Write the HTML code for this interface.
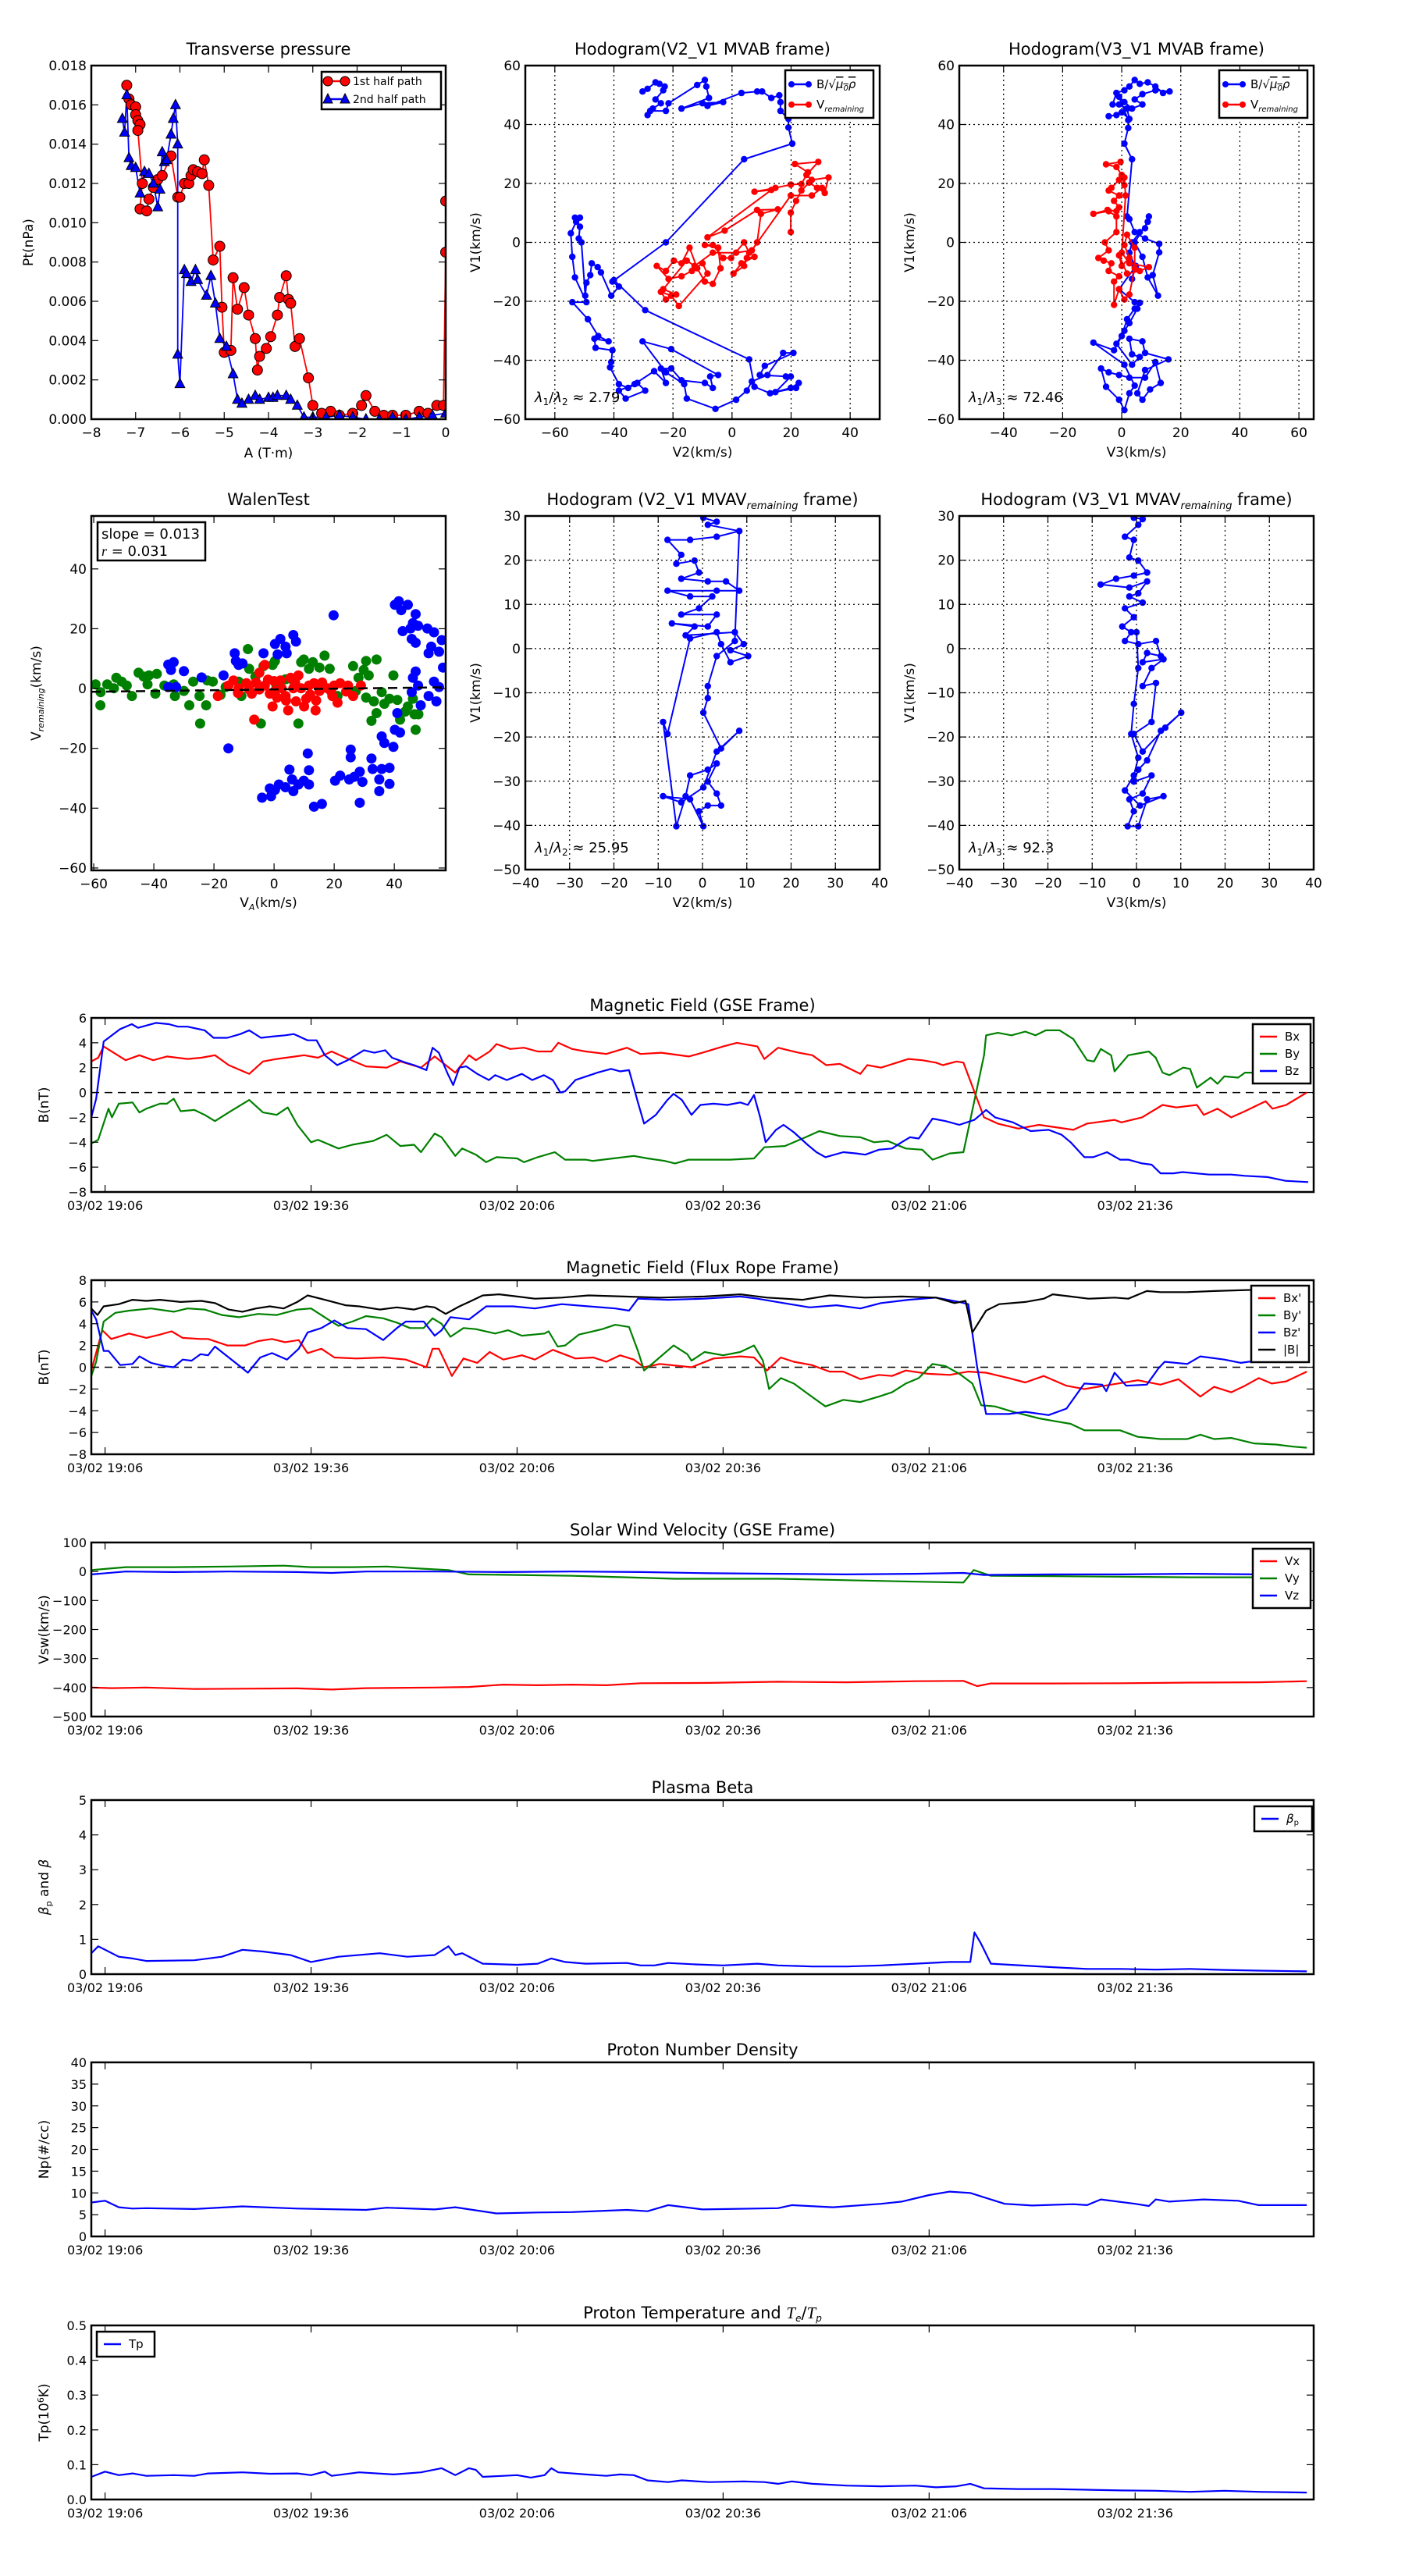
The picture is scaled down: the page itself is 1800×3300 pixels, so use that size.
<!DOCTYPE html>
<html><head><meta charset="utf-8"><title>Flux rope analysis</title>
<style>
html,body{margin:0;padding:0;background:#fff;}
svg{display:block;font-family:"DejaVu Sans","Liberation Sans",sans-serif;}
</style></head>
<body>
<svg id="fig" xmlns="http://www.w3.org/2000/svg" width="1800" height="3300" viewBox="0 0 1800 3300"></svg>
<script>
// ---------------- DATA ----------------
// Transverse pressure: [A (T·m), Pt (x1e-3 nPa)]
const ptFirstHalf=[[-7.2,17.0],[-7.15,16.3],[-7.1,16.0],[-7.0,15.9],[-7.0,15.5],[-6.95,15.2],[-6.9,15.0],[-6.95,14.7],[-6.85,12.0],[-6.9,10.7],[-6.75,10.6],[-6.7,11.2],[-6.6,11.8],[-6.5,12.2],[-6.4,12.4],[-6.2,13.4],[-6.05,11.3],[-6.0,11.3],[-5.9,12.0],[-5.8,12.0],[-5.75,12.4],[-5.7,12.7],[-5.6,12.6],[-5.5,12.5],[-5.45,13.2],[-5.35,11.9],[-5.25,8.1],[-5.1,8.8],[-5.05,5.7],[-5.0,3.4],[-4.85,3.5],[-4.8,7.2],[-4.7,5.6],[-4.55,6.7],[-4.45,5.3],[-4.3,4.1],[-4.25,2.5],[-4.2,3.2],[-4.05,3.6],[-3.95,4.2],[-3.8,5.3],[-3.75,6.2],[-3.6,7.3],[-3.55,6.1],[-3.5,5.9],[-3.4,3.7],[-3.3,4.1],[-3.1,2.1],[-3.0,0.7],[-2.8,0.3],[-2.6,0.4],[-2.4,0.2],[-2.1,0.3],[-1.9,0.7],[-1.8,1.2],[-1.6,0.4],[-1.4,0.2],[-1.2,0.2],[-0.9,0.2],[-0.6,0.4],[-0.4,0.3],[-0.2,0.7],[-0.05,0.7],[0,8.5],[0,11.1]];
const ptSecondHalf=[[-7.3,15.3],[-7.25,14.6],[-7.2,16.5],[-7.15,13.3],[-7.1,12.9],[-7.0,12.8],[-6.9,11.5],[-6.8,12.6],[-6.7,12.5],[-6.6,12.0],[-6.5,10.8],[-6.45,11.7],[-6.4,13.6],[-6.35,13.1],[-6.3,13.2],[-6.2,14.5],[-6.15,15.3],[-6.1,16.0],[-6.05,14.0],[-6.05,3.3],[-6.0,1.8],[-5.9,7.6],[-5.85,7.4],[-5.75,7.0],[-5.65,7.6],[-5.6,7.1],[-5.4,6.3],[-5.3,7.3],[-5.2,5.9],[-5.1,4.1],[-4.95,3.7],[-4.8,2.3],[-4.7,1.0],[-4.6,0.8],[-4.45,1.0],[-4.3,1.2],[-4.2,1.0],[-4.0,1.1],[-3.9,1.1],[-3.8,1.2],[-3.6,1.2],[-3.5,1.0],[-3.35,0.7],[-3.2,0.1],[-3.0,0.1],[-2.7,0.1],[-2.4,0.2],[-2.1,0.1],[-1.8,0.0],[-1.5,0.0],[-1.2,0.1],[-0.9,0.0],[-0.6,0.1],[-0.3,0.2],[0,0.3]];
// Hodogram V2-V1 MVAB: [V2, V1]
const hodo1B=[[-30.3,51.2],[-28.6,52.1],[-25.9,54.3],[-24.6,53.8],[-22.8,52.9],[-23.3,51.6],[-25.9,48.5],[-24.1,47.2],[-26.8,45.4],[-28.6,43.2],[-27.7,44.6],[-22.4,44.6],[-21.5,47.2],[-11.8,53.4],[-9.2,55.1],[-8.7,52.9],[-7.8,49.0],[-17.1,45.4],[-10.0,47.2],[-3.0,47.6],[-8.3,46.3],[3.2,50.7],[8.5,51.2],[10.2,51.2],[13.3,49.0],[16.0,49.9],[16.4,47.6],[16.4,44.6],[19.1,41.9],[19.1,39.0],[20.4,33.5],[4.1,28.2],[-22.4,0.0],[-40.5,-13.3],[-38.3,-15.0],[-40.9,-18.1],[-44.4,-10.2],[-45.5,-8.4],[-47.5,-7.1],[-48.0,-11.1],[-49.3,-13.7],[-49.7,-18.1],[-51.0,0.0],[-51.9,1.3],[-51.5,5.3],[-53.2,8.4],[-51.5,8.4],[-52.8,7.0],[-54.6,3.1],[-54.1,-4.9],[-53.2,-11.9],[-49.3,-20.3],[-54.1,-20.3],[-48.8,-26.1],[-45.3,-31.8],[-41.8,-33.6],[-46.6,-32.7],[-46.2,-35.8],[-40.5,-36.6],[-40.9,-40.6],[-41.3,-42.4],[-38.3,-48.1],[-35.2,-49.4],[-32.1,-47.7],[-29.4,-50.3],[-36.0,-53.0],[-38.3,-50.3],[-33.0,-48.1],[-26.4,-43.7],[-22.4,-47.7],[-24.1,-42.8],[-20.6,-42.8],[-17.1,-46.8],[-9.2,-47.7],[-6.5,-49.4],[-7.4,-45.5],[-4.7,-45.0],[-20.6,-36.2],[-30.3,-33.6],[-22.4,-44.1],[-16.2,-48.1],[-15.3,-53.0],[-5.6,-56.5],[1.4,-53.4],[5.0,-50.3],[6.7,-47.2],[12.0,-45.0],[17.3,-37.5],[20.8,-37.5],[11.1,-41.9],[9.4,-45.0],[18.2,-45.5],[19.9,-45.5],[14.7,-50.8],[21.7,-49.4],[22.6,-47.7],[19.9,-49.4],[12.9,-51.2],[7.6,-49.0],[5.8,-39.7],[-29.4,-23.0],[-40.0,-12.8]];
const hodo1V=[[19.9,3.5],[19.9,10.1],[21.7,14.1],[23.5,17.6],[26.1,20.3],[28.8,18.5],[31.4,16.8],[32.7,22.0],[27.0,21.2],[25.2,22.9],[29.2,27.3],[21.3,26.6],[25.7,23.8],[23.5,19.8],[19.9,19.6],[14.7,18.5],[7.6,17.2],[13.3,17.8],[-8.3,1.7],[-2.5,4.0],[8.5,11.0],[15.5,11.2],[9.8,9.7],[8.5,0.0],[5.0,-5.3],[7.6,-4.9],[3.2,-7.1],[0.5,-10.6],[4.1,-8.0],[5.8,-3.5],[4.1,0.0],[-0.3,-5.3],[-3.0,-5.3],[-6.5,-0.9],[-9.2,-0.9],[-4.7,-1.8],[-3.9,-8.8],[-6.5,-14.1],[-9.2,-13.3],[-11.8,-8.8],[-14.4,-1.8],[-17.1,-7.1],[-19.7,-6.2],[-22.4,-9.7],[-25.5,-8.0],[-21.5,-12.4],[-17.1,-11.5],[-13.6,-9.7],[-10.0,-7.1],[-8.3,-10.6],[-18.0,-21.6],[-20.6,-18.1],[-24.1,-16.8],[-22.4,-19.4],[-18.9,-17.7],[-23.3,-15.9],[-15.3,-6.2],[-12.7,-8.0],[-6.5,-3.5],[1.4,-3.5],[6.7,-2.7],[19.9,15.9],[27.0,15.9],[30.5,18.5]];
// Hodogram V3-V1 MVAB: [V3, V1]
const hodo2B=[[-4.4,42.8],[-1.8,43.2],[0,44.1],[2.6,41.9],[1.8,45.4],[-0.9,46.8],[-3.1,46.8],[-1.8,50.7],[0.9,51.6],[2.6,52.9],[4.4,55.1],[6.1,53.8],[8.8,54.3],[11.4,52.9],[14.0,50.7],[16.2,51.2],[11.4,51.6],[7.0,50.3],[4.4,48.5],[7.0,46.8],[3.5,45.4],[0.9,47.6],[-0.9,49.4],[2.2,41.5],[2.2,38.8],[0.9,33.5],[3.5,28.2],[1.8,8.8],[2.6,7.9],[4.4,3.5],[7.9,1.3],[12.7,-0.5],[12.7,-3.4],[10.5,-11.1],[12.3,-18.1],[8.8,-11.9],[7.0,-4.9],[4.4,0.0],[8.8,7.0],[9.2,8.8],[7.9,4.8],[6.1,3.5],[3.5,0.0],[2.6,-3.5],[4.4,-8.0],[3.5,-12.4],[4.8,-8.0],[-0.9,-15.9],[4.4,-20.3],[6.1,-20.5],[4.4,-22.5],[1.8,-26.1],[0,-31.8],[-2.6,-36.6],[-9.6,-34.0],[0.9,-41.5],[4.4,-48.6],[2.6,-51.2],[0.9,-56.9],[-0.9,-53.4],[-5.3,-49.0],[-7.0,-42.8],[-4.4,-44.1],[-0.9,-45.0],[2.6,-45.9],[7.9,-45.9],[11.4,-40.6],[13.2,-47.7],[9.6,-49.9],[7.0,-53.4],[5.3,-51.2],[7.9,-43.3],[15.8,-39.7],[7.9,-37.5],[7.0,-33.6],[2.6,-32.7],[3.5,-38.0],[6.1,-38.9],[3.5,-41.5],[-1.8,-34.4],[0.9,-30.0],[2.6,-27.4],[5.3,-22.5],[6.1,-20.5]];
const hodo2V=[[-0.4,27.3],[-5.3,26.5],[-1.8,25.6],[0,22.9],[0.9,19.4],[-0.9,21.2],[-3.5,18.5],[-4.4,17.6],[-0.9,15.9],[-2.6,14.1],[-0.9,11.9],[-1.8,10.6],[-4.8,11.0],[-9.6,9.7],[-4.4,10.6],[-1.8,8.8],[-1.8,3.5],[-5.7,0.0],[-4.4,-2.7],[-7.9,-5.3],[-6.1,-6.2],[-3.5,-7.1],[-4.4,-9.7],[-0.9,-11.5],[-2.6,-13.3],[-2.6,-21.2],[-0.9,-15.9],[0.9,-19.4],[2.6,-17.7],[4.4,-8.8],[4.4,-1.8],[1.8,2.6],[0.9,-0.9],[2.6,-5.3],[0,-8.0],[-0.9,-4.4],[1.8,-10.6],[6.1,-9.7],[9.2,-8.4],[2.6,-7.1],[0,-3.5],[1.3,15.9],[0.9,22.0]];
// Walen test scatter: [V_A, V_remaining]
const walenX=[[-59.4,1.4],[-57.7,-1.2],[-55.5,1.4],[-53.3,0.1],[-52.5,3.6],[-50.7,2.3],[-49.0,1.0],[-47.3,-2.5],[-45.1,5.3],[-43.4,4.0],[-41.6,4.4],[-39.0,4.9],[-42.1,1.4],[-39.5,-1.7],[-36.5,1.0],[-33.4,1.4],[-33.0,-2.5],[-30.0,-0.8],[-28.2,-5.6],[-26.9,2.3],[-24.8,-2.5],[-24.6,-11.7],[-22.6,-5.6],[-22.2,2.7],[-20.4,2.3],[-17.8,-2.1],[-16.1,0.5],[-10.9,-2.5],[-8.7,13.2],[-8.3,6.6],[-11.8,2.3],[-6.2,4.0],[-4.4,-11.7],[-3.5,7.5],[-0.5,7.9],[0.3,9.2],[0.8,1.0],[3.8,3.1],[6.4,2.7],[8.1,-11.7],[9.0,8.8],[9.9,9.7],[11.6,6.6],[12.9,8.8],[15.1,7.0],[16.8,11.0],[18.5,6.6],[21.1,-2.5],[26.3,7.5],[28.1,3.6],[29.8,6.2],[30.6,9.2],[31.5,4.4],[34.1,9.7],[39.7,4.4],[35.8,-1.2],[30.6,-3.0],[33.2,-4.3],[32.4,-10.8],[34.1,-8.2],[36.7,-5.1],[38.4,-3.4],[41.0,-3.8],[41.9,-10.4],[44.5,-6.0],[46.2,-3.4],[46.7,-8.6],[48.0,-8.6],[47.1,-13.8],[43.6,-7.7],[-57.8,-5.6],[27.2,-0.8]];
const walenY=[[-18.7,-2.5],[-15.2,1.0],[-13.5,2.7],[-11.8,0.1],[-9.2,1.8],[-7.4,-1.7],[-6.6,-10.4],[-4.9,5.3],[-3.1,7.9],[-3.1,1.0],[-0.5,-6.0],[0.3,-0.8],[2.1,2.7],[3.8,-2.5],[4.7,-7.3],[5.5,3.6],[7.3,-4.3],[8.1,4.4],[9.0,0.1],[10.7,-3.4],[11.6,1.0],[13.3,1.8],[13.8,-7.3],[15.1,-0.8],[17.7,0.1],[19.4,-2.5],[21.1,-4.7],[22.0,1.8],[24.6,1.0],[26.3,-2.5],[28.9,1.0],[-8.3,-0.3],[-1.4,-1.7],[6.4,0.1],[2.5,0.1],[-4.9,-0.3],[-2,3],[4,-4],[7,2],[12,-2],[16,2],[19,-1],[-6,2],[10,-6],[1,-3],[24,-1],[-12,-1.5],[0,2.5],[14,-4],[20,1]];
const walenZ=[[-35.2,8.0],[-33.4,8.8],[-34.3,6.2],[-30.0,5.8],[-35.2,0.5],[-32.6,0.5],[-24.1,3.7],[-16.8,4.4],[-13.1,11.8],[-12.7,9.2],[-11.8,7.9],[-10.5,8.4],[-15.2,-20.0],[-3.5,11.8],[0.3,14.9],[2.1,16.6],[3.8,14.0],[6.4,17.9],[7.3,15.7],[4.2,11.8],[1.2,11.4],[19.8,24.5],[40.2,28.0],[41.5,29.2],[42.3,26.2],[44.5,28.0],[47.1,24.9],[46.2,21.9],[45.4,20.1],[47.9,21.0],[42.8,19.2],[45.8,16.6],[47.1,15.3],[51.0,20.1],[53.2,18.8],[55.8,16.2],[52.3,14.0],[51.4,11.8],[54.9,12.3],[56.2,7.0],[47.1,5.7],[46.2,3.6],[47.9,1.0],[45.8,-1.2],[53.2,2.3],[54.9,0.5],[51.4,-2.5],[54.0,-4.3],[48.8,-5.6],[41.0,-8.2],[40.2,-13.8],[41.9,-14.7],[35.8,-16.0],[36.7,-18.2],[39.7,-19.5],[25.5,-20.4],[25.5,-23.0],[11.2,-21.7],[5.1,-27.1],[11.6,-27.3],[6.0,-30.4],[8.1,-32.1],[9.9,-30.8],[11.6,-32.1],[6.4,-34.3],[3.8,-33.0],[1.6,-32.1],[0.3,-33.9],[-1.4,-33.4],[-4.0,-36.5],[-1.0,-36.0],[13.3,-39.5],[15.9,-38.6],[20.3,-30.8],[22.0,-29.1],[25.0,-30.4],[26.7,-29.5],[28.5,-27.8],[29.4,-31.2],[32.4,-23.4],[32.8,-26.9],[35.8,-26.9],[38.4,-26.5],[35.0,-30.4],[35.0,-34.3],[38.4,-31.9],[28.5,-38.2]];
const walenSlope=0.013, walenIntercept=-0.3;
// MVAV hodograms
const hodo3B=[[0.2,29.6],[3.2,28.7],[1.2,28.0],[8.3,26.6],[3.2,25.3],[-2.8,24.6],[-7.9,24.6],[-4.8,21.2],[-5.9,19.2],[-1.8,19.9],[-0.8,17.2],[-4.8,15.8],[1.2,15.2],[5.3,15.2],[8.3,13.1],[3.2,13.1],[-7.9,13.1],[-2.8,11.8],[2.2,11.8],[-0.8,9.1],[-4.8,7.7],[3.2,7.7],[1.2,5.0],[-6.9,5.7],[-1.8,5.0],[-3.8,3.0],[7.3,3.7],[9.3,1.0],[6.3,-0.4],[10.3,-1.7],[6.3,-3.1],[4.2,1.0],[3.2,3.7],[-2.8,2.3],[-7.9,-19.3],[-8.9,-16.6],[-5.9,-40.2],[-3.8,-33.4],[-2.8,-28.7],[1.2,-27.4],[3.2,-26.0],[1.2,-30.1],[3.2,-32.8],[4.2,-35.5],[1.2,-35.5],[-0.8,-36.8],[0.2,-40.2],[-2.8,-34.1],[-8.9,-33.4],[-4.8,-34.8],[0.2,-31.4],[3.2,-23.3],[8.3,-18.6],[4.2,-22.6],[0.2,-14.5],[1.2,-11.2],[1.2,-8.5],[3.2,-1.7],[7.3,1.7],[8.3,26.6]];
const hodo4B=[[-0.6,29.6],[1.4,29.3],[0.4,28.0],[-2.6,25.3],[-0.6,24.6],[-1.6,20.6],[0.4,19.9],[2.4,17.2],[-0.6,16.5],[-4.6,15.8],[-8.1,14.5],[-1.6,13.8],[2.4,15.2],[0.4,12.5],[-1.6,11.8],[1.4,10.4],[-2.6,9.1],[-0.6,7.1],[-3.2,5.0],[-1.2,3.7],[-2.6,1.7],[0.4,1.0],[4.4,1.7],[5.5,-1.7],[2.4,-1.0],[1.4,-3.1],[6.1,-2.4],[3.4,-4.4],[1.4,-8.5],[4.4,-7.8],[3.4,-16.6],[-0.6,-19.3],[1.4,-23.3],[6.5,-17.9],[10.1,-14.5],[5.5,-18.6],[2.4,-25.3],[0.4,-27.4],[-0.6,-30.1],[3.4,-28.7],[1.4,-32.8],[-1.6,-34.1],[-0.6,-36.8],[-2.0,-40.2],[0.4,-40.2],[2.4,-34.1],[6.1,-33.4],[0.8,-35.5],[-2.6,-32.1],[-0.6,-28.7],[0.4,-24.7],[-1.2,-19.3],[-0.6,-12.5],[0.4,-4.4],[0.0,3.7]];
// Time series: [minutes since 19:04, value]
const timeTickMinutes=[2,32,62,92,122,152];
const timeTickLabels=["03/02 19:06","03/02 19:36","03/02 20:06","03/02 20:36","03/02 21:06","03/02 21:36"];
const bxGse=[[0,2.5],[1,2.8],[1.8,3.7],[5,2.6],[7,3.0],[9,2.6],[11,2.9],[14,2.7],[16,2.8],[18,3.0],[20,2.2],[23,1.5],[25,2.5],[27,2.7],[31,3.0],[33,2.8],[35,3.3],[37,2.8],[40,2.1],[43,2.0],[45,2.5],[48,2.0],[50,2.9],[53,1.6],[55,3.0],[56,2.6],[58,3.3],[59,3.9],[61,3.5],[63,3.6],[65,3.3],[67,3.3],[68,4.0],[70,3.5],[72,3.3],[75,3.1],[78,3.6],[80,3.1],[83,3.2],[87,2.9],[89,3.2],[92,3.7],[94,4.0],[97,3.7],[98,2.7],[100,3.6],[103,3.2],[105,3.0],[107,2.2],[109,2.3],[112,1.5],[113,2.2],[115,2.0],[119,2.7],[121,2.6],[123,2.4],[124,2.2],[126,2.5],[127,2.4],[130,-2.0],[132,-2.5],[135,-2.9],[138,-2.6],[143,-3.0],[145,-2.5],[149,-2.2],[150,-2.4],[153,-2.0],[156,-1.0],[158,-1.2],[161,-1.0],[162,-1.8],[164,-1.3],[166,-2.0],[168,-1.5],[171,-0.7],[172,-1.3],[174,-1.0],[177,0]];
const byGse=[[0,-4.1],[1,-3.8],[2.5,-1.3],[3,-2.0],[4,-0.9],[6,-0.8],[7,-1.6],[8,-1.3],[10,-0.9],[11,-0.9],[12,-0.5],[13,-1.5],[15,-1.4],[16.5,-1.8],[18,-2.3],[20,-1.6],[23,-0.6],[25,-1.6],[27,-1.8],[28.6,-1.2],[30,-2.6],[32,-4.0],[33,-3.8],[36,-4.5],[38,-4.2],[41,-3.9],[43,-3.4],[45,-4.3],[47,-4.2],[48,-4.8],[50,-3.3],[51,-3.6],[53,-5.1],[54,-4.5],[56,-5.0],[57.5,-5.6],[59,-5.2],[62,-5.3],[63,-5.6],[65,-5.2],[67.5,-4.8],[69,-5.4],[72,-5.4],[73,-5.5],[76,-5.3],[79,-5.1],[81,-5.3],[83.5,-5.5],[85,-5.7],[87,-5.4],[91,-5.4],[93,-5.4],[96.5,-5.3],[98,-4.4],[101,-4.3],[104,-3.6],[106,-3.1],[109,-3.5],[112,-3.6],[114,-4.0],[116,-3.9],[118.6,-4.5],[121,-4.6],[122.5,-5.4],[125,-4.9],[127,-4.8],[130,3.0],[130.3,4.6],[132,4.8],[134,4.6],[136,4.9],[137.5,4.6],[139,5.0],[141,5.0],[143,4.3],[145,2.6],[146,2.5],[147,3.5],[148.5,3.0],[149,1.7],[151,3.0],[154,3.3],[155,2.8],[156,1.6],[157,1.4],[159,2.0],[160,1.9],[161,0.4],[163,1.2],[164,0.7],[165,1.3],[167,1.2],[168,1.6],[171,1.6],[174,1.8],[177,2.0]];
const bzGse=[[0,-2.0],[0.7,-0.5],[1.8,4.1],[4.2,5.1],[5.9,5.5],[6.8,5.2],[9.4,5.6],[11.3,5.5],[12.6,5.3],[14,5.3],[16.5,5.0],[17.8,4.4],[19.8,4.4],[21.7,4.7],[23,5.0],[24.7,4.4],[26.3,4.5],[28.2,4.6],[29.5,4.7],[31.5,4.2],[32.8,4.2],[34,3.0],[35.8,2.2],[37.3,2.6],[39.7,3.4],[41.2,3.2],[42.8,3.4],[43.8,2.8],[45.8,2.4],[47,2.2],[48.8,1.8],[49.7,3.6],[50.6,3.2],[51.9,1.5],[52.7,0.6],[53.6,2.0],[54.6,2.1],[56.2,1.5],[57.9,1.0],[58.8,1.4],[60.5,1.0],[62.7,1.5],[64.2,1.0],[65.9,1.4],[67.2,1.0],[68.3,0.0],[69,0.1],[70.5,1.0],[73.7,1.6],[75.7,1.9],[77,1.7],[78.3,1.8],[79.6,-0.8],[80.5,-2.5],[82.2,-1.8],[83.9,-0.6],[84.8,-0.1],[86,-0.6],[87.4,-1.8],[88.7,-1.0],[90.6,-0.9],[92.6,-1.0],[94.5,-0.8],[95.6,-1.0],[96.5,-0.2],[97.4,-2.0],[98.2,-4.0],[99.7,-3.0],[100.8,-2.6],[102.3,-3.2],[104.3,-4.2],[105.6,-4.8],[106.9,-5.2],[109.5,-4.8],[111.4,-4.9],[112.7,-5.0],[114.7,-4.6],[116.6,-4.5],[118,-4.0],[119.2,-3.6],[120.5,-3.7],[122.5,-2.1],[124.4,-2.3],[126.4,-2.6],[128.6,-2.2],[130.3,-1.4],[131.6,-2.0],[134.2,-2.4],[136.8,-3.1],[139.4,-3.0],[141.3,-3.4],[142.6,-4.0],[144.6,-5.2],[145.9,-5.2],[147.9,-4.8],[149.8,-5.4],[151,-5.4],[153,-5.7],[154.4,-5.8],[155.7,-6.5],[157.6,-6.5],[158.9,-6.4],[162.8,-6.6],[166,-6.6],[168,-6.7],[171.3,-6.8],[173.9,-7.1],[177.2,-7.2]];
const bxFr=[[0,-0.3],[1.6,3.4],[2.9,2.6],[5.5,3.1],[8,2.7],[10,3.0],[11.7,3.3],[13.3,2.7],[15.9,2.6],[17,2.6],[19.8,2.0],[22.4,2.0],[24.3,2.4],[26.3,2.6],[28.2,2.3],[30.2,2.5],[31.5,1.3],[33.5,1.7],[35.4,0.9],[38.6,0.8],[42.5,0.9],[45.8,0.7],[48.8,0.0],[49.7,1.7],[50.6,1.7],[52.5,-0.8],[54.2,0.8],[56.2,0.4],[58,1.4],[60,0.7],[62.7,1.1],[64.6,0.7],[67.2,1.6],[70.5,0.8],[73.1,0.9],[75,0.5],[77,1.1],[79,0.7],[80.5,0.0],[82.8,0.3],[87.4,0.0],[90.6,0.8],[94.5,1.0],[96.5,0.9],[98.4,-0.3],[100.4,0.9],[102.3,0.5],[104.9,0.2],[107.5,-0.4],[109.5,-0.4],[112,-1.1],[114.7,-0.7],[116.6,-0.8],[118.6,-0.3],[121.8,-0.6],[125,-0.7],[127.7,-0.4],[130.3,-0.5],[133.6,-1.0],[136,-1.4],[138.7,-0.8],[142,-1.7],[144.6,-2.0],[148.5,-1.6],[152.4,-1.2],[155.7,-1.6],[158.3,-1.1],[161.5,-2.7],[163.5,-1.8],[166,-2.3],[168,-1.7],[170,-1.0],[171.9,-1.5],[174,-1.3],[177,-0.4]];
const byFr=[[0,-0.8],[0.7,0.5],[1.8,4.2],[3.5,5.0],[5.5,5.2],[8.7,5.4],[12,5.1],[14,5.4],[16.5,5.3],[19,4.8],[21.5,4.6],[24.3,4.9],[27,4.8],[30,5.3],[32,5.4],[34.7,4.3],[36,3.8],[38,4.2],[40,4.7],[42.5,4.5],[44.5,4.1],[46.4,3.6],[48.4,3.6],[49.7,4.5],[51,4.0],[52.3,2.8],[54.2,3.6],[56,3.5],[58.8,3.1],[60.7,3.4],[62.7,2.9],[66,3.1],[66.6,3.3],[67.9,1.9],[69,2.0],[71,3.0],[74.4,3.5],[76.3,3.9],[78.3,3.7],[79.6,1.5],[80.5,-0.3],[82.2,0.6],[84.8,2.0],[86.8,1.2],[87.4,0.6],[89.3,1.4],[92,1.1],[94.5,1.4],[96.5,2.0],[97.8,0.6],[98.7,-2.0],[100.4,-1.0],[102.3,-1.5],[104.9,-2.7],[106.9,-3.6],[109.5,-3.0],[112,-3.2],[114.7,-2.7],[116.6,-2.3],[118.6,-1.5],[120.5,-1.0],[122.5,0.3],[124.4,0.1],[126.4,-0.6],[128.3,-1.5],[129.6,-3.5],[131.6,-3.6],[134.2,-4.1],[138,-4.7],[140.7,-5.0],[142.6,-5.2],[144.6,-5.8],[149.8,-5.8],[152.4,-6.4],[155.7,-6.6],[159.6,-6.6],[161.5,-6.2],[163.5,-6.6],[166,-6.5],[169.3,-7.0],[172.5,-7.1],[175,-7.3],[177,-7.4]];
const bzFr=[[0,5.2],[0.7,4.4],[1.8,1.5],[2.5,1.5],[4.2,0.2],[6,0.3],[7,1.0],[8.7,0.4],[10.7,0.1],[12,0.0],[13.3,0.7],[14.6,0.6],[15.9,1.2],[17,1.1],[18,1.9],[19,1.4],[21,0.4],[22.8,-0.5],[24.6,0.9],[26.3,1.3],[28.5,0.7],[30.2,1.7],[31.5,3.2],[33.5,3.6],[35.4,4.3],[37.3,3.6],[40,3.5],[42.5,2.5],[44.5,3.6],[45.8,4.2],[48.4,4.2],[50,2.9],[51,3.4],[52.3,4.6],[55,4.4],[57.5,5.6],[61.4,5.6],[64.6,5.4],[68.5,5.8],[72.4,5.6],[76.3,5.4],[78.3,5.2],[79.6,6.3],[84,6.2],[89.3,6.3],[94.5,6.5],[97,6.3],[100.8,5.9],[104.6,5.5],[108.5,5.7],[112,5.4],[115,5.9],[119,6.2],[123,6.4],[126.4,6.0],[127.7,5.8],[129,0],[130.3,-4.3],[133.6,-4.3],[136,-4.1],[139.4,-4.4],[142,-3.8],[144.6,-1.5],[147.2,-1.6],[147.8,-2.2],[149,-0.5],[150.7,-1.7],[153.7,-1.6],[155.4,-0.1],[156.3,0.5],[159.6,0.3],[161.5,1.0],[165,0.7],[167.4,0.4],[172,0.8],[176.5,0.9],[177,1.0]];
const bmagFr=[[0,5.4],[0.9,4.8],[1.8,5.6],[4,5.8],[6,6.2],[8,6.1],[10,6.2],[13,6.0],[16,6.1],[18,5.9],[20,5.3],[22,5.1],[24,5.4],[26,5.6],[28,5.4],[30,6.0],[31.5,6.6],[34,6.2],[37,5.7],[39,5.6],[42,5.3],[44.5,5.5],[47,5.3],[48.8,5.6],[50,5.5],[51.6,4.9],[53.6,5.6],[55,6.0],[57,6.6],[59.4,6.7],[62,6.5],[64.6,6.3],[68.5,6.4],[72.4,6.6],[77.6,6.5],[82.8,6.4],[89.3,6.5],[94.5,6.7],[98.4,6.4],[103.6,6.2],[107.5,6.6],[112.7,6.4],[118,6.5],[123,6.4],[125.7,5.9],[127.3,6.1],[128.3,3.2],[130.3,5.2],[132.2,5.8],[136,6.0],[138.7,6.3],[140,6.7],[142.6,6.5],[145.2,6.3],[149,6.4],[151,6.3],[153.7,7.0],[155.7,6.9],[159.6,6.9],[163.5,7.0],[168.7,7.1],[174,7.3],[177,7.4]];
const vxGse=[[0,-400],[3,-402],[8,-400],[15,-405],[22,-404],[30,-403],[35,-407],[40,-402],[50,-400],[55,-398],[60,-390],[65,-392],[70,-390],[75,-392],[80,-385],[90,-384],[100,-380],[110,-382],[120,-378],[127,-377],[129,-395],[131,-386],[140,-386],[150,-385],[160,-383],[170,-382],[177,-378]];
const vyGse=[[0,5],[5,15],[12,15],[20,17],[28,20],[32,15],[38,15],[43,17],[48,10],[52,5],[55,-10],[62,-12],[70,-15],[78,-20],[85,-25],[92,-25],[100,-25],[110,-30],[120,-35],[127,-38],[128.5,5],[131,-15],[140,-16],[150,-18],[160,-20],[170,-20],[177,-18]];
const vzGse=[[0,-10],[5,0],[12,-2],[20,0],[30,-2],[35,-5],[40,0],[50,0],[60,-2],[70,0],[80,-2],[90,-6],[100,-8],[110,-10],[120,-8],[127,-5],[130,-12],[140,-10],[150,-10],[160,-8],[170,-10],[177,-8]];
const betaP=[[0,0.6],[1,0.8],[4,0.5],[6,0.45],[8,0.38],[15,0.4],[19,0.5],[22,0.7],[25,0.65],[29,0.55],[32,0.35],[36,0.5],[42,0.6],[46,0.5],[50,0.55],[52,0.8],[53,0.55],[54,0.6],[57,0.3],[62,0.27],[65,0.3],[67,0.45],[69,0.35],[72,0.3],[78,0.32],[80,0.25],[82,0.25],[84,0.32],[88,0.28],[92,0.25],[97,0.3],[100,0.25],[105,0.22],[110,0.22],[115,0.25],[120,0.3],[125,0.35],[128,0.35],[128.6,1.2],[129.5,0.9],[131,0.3],[140,0.2],[145,0.15],[150,0.15],[155,0.13],[160,0.15],[165,0.12],[170,0.1],[177,0.08]];
const densityNp=[[0,7.8],[2,8.2],[4,6.7],[6,6.4],[8,6.5],[15,6.3],[22,6.9],[30,6.4],[40,6.1],[43,6.6],[50,6.2],[53,6.7],[59,5.3],[65,5.5],[70,5.6],[78,6.1],[81,5.8],[84,7.2],[89,6.2],[100,6.5],[102,7.2],[108,6.7],[115,7.5],[118,8.0],[122,9.5],[125,10.3],[128,10.0],[133,7.5],[137,7.1],[143,7.4],[145,7.2],[147,8.5],[152,7.5],[154,7.0],[155,8.5],[157,8.0],[162,8.5],[167,8.2],[170,7.2],[177,7.2]];
const tempTp=[[0,0.065],[2,0.08],[4,0.07],[6,0.075],[8,0.068],[12,0.07],[15,0.068],[17,0.075],[22,0.078],[26,0.074],[30,0.075],[32,0.07],[34,0.08],[35,0.068],[39,0.078],[44,0.072],[48,0.078],[51,0.09],[53,0.07],[55,0.09],[56,0.085],[57,0.065],[62,0.07],[64,0.063],[66,0.07],[67,0.09],[68,0.078],[72,0.072],[75,0.068],[77,0.072],[79,0.07],[81,0.055],[84,0.05],[86,0.055],[90,0.05],[95,0.052],[98,0.05],[100,0.045],[102,0.052],[105,0.045],[110,0.04],[115,0.038],[120,0.04],[123,0.035],[126,0.038],[128,0.045],[130,0.032],[135,0.03],[140,0.03],[145,0.028],[150,0.026],[155,0.025],[160,0.022],[165,0.025],[170,0.022],[177,0.02]];

// ---------------- RENDERING ----------------
const NS='http://www.w3.org/2000/svg';
const svg=document.getElementById('fig');
function mk(tag,parent,attrs){const e=document.createElementNS(NS,tag);for(const k in attrs)e.setAttribute(k,attrs[k]);(parent||svg).appendChild(e);return e;}
function lin(d0,d1,r0,r1){return v=>r0+(v-d0)*(r1-r0)/(d1-d0);}
function fmt(v,dec){let s=v.toFixed(dec);if(v<0)s='\u2212'+s.slice(1);return s;}
let clipId=0;
function makePanel(name,box,xd,yd){
  const g=mk('g',svg,{});
  
  
  const cid='clip'+(clipId++);
  const cp=mk('clipPath',svg,{id:cid});
  mk('rect',cp,{x:box.x,y:box.y,width:box.w,height:box.h});
  const plot=mk('g',g,{'clip-path':'url(#'+cid+')'});
  return {g,plot,box,sx:lin(xd[0],xd[1],box.x,box.x+box.w),sy:lin(yd[0],yd[1],box.y+box.h,box.y)};
}
function frame(p){
  const b=p.box;
  const f=mk('rect',p.g,{x:b.x,y:b.y,width:b.w,height:b.h,fill:'none',stroke:'#000','stroke-width':2.5});
  
  
}
function xTicks(p,vals,labels,opts){
  const b=p.box;opts=opts||{};
  vals.forEach((v,i)=>{
    const x=p.sx(v);
    if(opts.grid){const gl=mk('line',p.g,{x1:x,x2:x,y1:b.y,y2:b.y+b.h,stroke:'#000','stroke-width':1.2,'stroke-dasharray':'2,4'});
      
      }
    mk('line',p.g,{x1:x,x2:x,y1:b.y+b.h,y2:b.y+b.h-9,stroke:'#000','stroke-width':1.2});
    mk('line',p.g,{x1:x,x2:x,y1:b.y,y2:b.y+9,stroke:'#000','stroke-width':1.2});
    const t=mk('text',p.g,{x:x,y:b.y+b.h+23,'text-anchor':'middle','font-size':opts.fs||17});
    t.textContent=labels[i];
    
    
  });
}
function yTicks(p,vals,labels,opts){
  const b=p.box;opts=opts||{};
  vals.forEach((v,i)=>{
    const y=p.sy(v);
    if(opts.grid){const gl=mk('line',p.g,{x1:b.x,x2:b.x+b.w,y1:y,y2:y,stroke:'#000','stroke-width':1.2,'stroke-dasharray':'2,4'});
      
      }
    mk('line',p.g,{x1:b.x,x2:b.x+9,y1:y,y2:y,stroke:'#000','stroke-width':1.2});
    mk('line',p.g,{x1:b.x+b.w,x2:b.x+b.w-9,y1:y,y2:y,stroke:'#000','stroke-width':1.2});
    const t=mk('text',p.g,{x:b.x-6,y:y+6,'text-anchor':'end','font-size':opts.fs||17});
    t.textContent=labels[i];
    
    
  });
}
function title(p,html,dy){
  const b=p.box;
  const t=mk('text',p.g,{x:b.x+b.w/2,y:b.y-(dy||10),'text-anchor':'middle','font-size':21});
  t.innerHTML=html;
  
  
}
function xLabel(p,html,y){
  const b=p.box;
  const t=mk('text',p.g,{x:b.x+b.w/2,y:y,'text-anchor':'middle','font-size':17});
  t.innerHTML=html;
  
  
}
function yLabel(p,html,x){
  const b=p.box;const cy=b.y+b.h/2;
  const t=mk('text',p.g,{x:x,y:cy,'text-anchor':'middle','font-size':17,transform:'rotate(-90 '+x+' '+cy+')'});
  t.innerHTML=html;
  
  
}
function pathD(p,pts){return pts.map((q,i)=>(i?'L':'M')+p.sx(q[0]).toFixed(1)+' '+p.sy(q[1]).toFixed(1)).join(' ');}
function line(p,pts,color,name,w){
  const l=mk('path',p.plot,{d:pathD(p,pts),fill:'none',stroke:color,'stroke-width':w||2.2,'stroke-linejoin':'round'});
  
  
  return l;
}
function dots(p,pts,color,r,name,stroke){
  pts.forEach(q=>{
    const c=mk('circle',p.plot,{cx:p.sx(q[0]).toFixed(1),cy:p.sy(q[1]).toFixed(1),r:r,fill:color,stroke:stroke||'none','stroke-width':1});
    
    
  });
}
function tris(p,pts,color,s,name){
  pts.forEach(q=>{
    const x=p.sx(q[0]),y=p.sy(q[1]);
    const t=mk('polygon',p.plot,{points:`${x},${y-s} ${x-s*0.9},${y+s*0.7} ${x+s*0.9},${y+s*0.7}`,fill:color,stroke:'#000','stroke-width':1});
    
    
  });
}
function legendBox(parent,x,y,w,h,name){
  const g=mk('g',parent,{});
  
  
  mk('rect',g,{x:x,y:y,width:w,height:h,fill:'#fff',stroke:'#000','stroke-width':2.5});
  return g;
}
function legendEntry(g,x,y,color,html,marker,fs){
  const e=mk('g',g,{});
  
  
  mk('line',e,{x1:x,x2:x+22,y1:y,y2:y,stroke:color,'stroke-width':2.5});
  if(marker==='dot'){mk('circle',e,{cx:x,cy:y,r:4,fill:color});mk('circle',e,{cx:x+22,cy:y,r:4,fill:color});}
  if(marker==='bigdot'){mk('circle',e,{cx:x,cy:y,r:6,fill:color,stroke:'#000'});mk('circle',e,{cx:x+22,cy:y,r:6,fill:color,stroke:'#000'});}
  if(marker==='tri'){[x,x+22].forEach(xx=>mk('polygon',e,{points:`${xx},${y-7} ${xx-6},${y+5} ${xx+6},${y+5}`,fill:color,stroke:'#000'}));}
  const t=mk('text',e,{x:x+32,y:y+5,'font-size':fs||15});
  t.innerHTML=html;
}
const range=(a,b,s)=>{const r=[];for(let v=a;v<=b+1e-9;v+=s)r.push(+v.toFixed(6));return r;};

// ---- Row 1 ----
const COLX=[117,673,1229],W=454;
// Transverse pressure
{const p=makePanel('transverse-pressure-chart',{x:COLX[0],y:84,w:W,h:453},[-8,0],[0,18]);
 line(p,ptFirstHalf,'#f00','first-half-line',1.8);
 line(p,ptSecondHalf,'#00f','second-half-line',1.8);
 dots(p,ptFirstHalf,'#f00',6.5,'first-half-point','#000');
 tris(p,ptSecondHalf,'#00f',7,'second-half-point');
 frame(p);
 const xs=range(-8,0,1);xTicks(p,xs,xs.map(v=>fmt(v,0)));
 const ys=range(0,18,2);yTicks(p,ys,ys.map(v=>(v/1000).toFixed(3)));
 title(p,'Transverse pressure',14);
 xLabel(p,'A (T\u00b7m)',586);
 yLabel(p,'Pt(nPa)',42);
 const lg=legendBox(p.g,412,92,153,48,'pressure-legend');
 legendEntry(lg,420,104,'#f00','1st half path','bigdot',14);
 legendEntry(lg,420,127,'#00f','2nd half path','tri',14);
}
function hodoPanel(name,col,y0,xd,yd,xt,yt,B,V,ttl,xl,lam,legend){
  const p=makePanel(name,{x:COLX[col],y:y0,w:W,h:453},xd,yd);
  xTicks(p,xt,xt.map(v=>fmt(v,0)),{grid:true});
  yTicks(p,yt,yt.map(v=>fmt(v,0)),{grid:true});
  line(p,B,'#00f','b-field-path',2);dots(p,B,'#00f',4.2,'b-field-point');
  if(V){line(p,V,'#f00','v-remaining-path',2);dots(p,V,'#f00',4.2,'v-remaining-point');}
  frame(p);
  title(p,ttl,14);
  xLabel(p,xl,y0+501);
  yLabel(p,'V1(km/s)',COLX[col]-58);
  const lt=mk('text',p.g,{x:COLX[col]+12,y:y0+431,'font-size':18});
  lt.innerHTML=lam;
  
  
  if(legend){const lg=legendBox(p.g,COLX[col]+W-121,y0+6,113,61,'hodogram-legend');
    legendEntry(lg,COLX[col]+W-113,y0+24,'#00f','B/\u221a<tspan font-style="italic" text-decoration="overline">\u03bc<tspan font-size="10" dy="3">0</tspan><tspan dy="-3">\u03c1</tspan></tspan>','dot',15);
    legendEntry(lg,COLX[col]+W-113,y0+50,'#f00','V<tspan font-size="10" font-style="italic" dy="4">remaining</tspan>','dot',15);}
  return p;
}
const lamHtml=(a,b,v)=>'<tspan font-style="italic">\u03bb</tspan><tspan font-size="12" dy="4">'+a+'</tspan><tspan dy="-4">/</tspan><tspan font-style="italic">\u03bb</tspan><tspan font-size="12" dy="4">'+b+'</tspan><tspan dy="-4"> \u2248 '+v+'</tspan>';
hodoPanel('hodogram-v2-v1-mvab',1,84,[-70,50],[-60,60],range(-60,40,20),range(-60,60,20),hodo1B,hodo1V,'Hodogram(V2_V1 MVAB frame)','V2(km/s)',lamHtml(1,2,'2.79'),true);
hodoPanel('hodogram-v3-v1-mvab',2,84,[-55,65],[-60,60],range(-40,60,20),range(-60,60,20),hodo2B,hodo2V,'Hodogram(V3_V1 MVAB frame)','V3(km/s)',lamHtml(1,3,'72.46'),true);

// ---- Row 2 ----
{const p=makePanel('walen-test-chart',{x:COLX[0],y:661,w:W,h:454},[-60.8,57.1],[-60.8,57.7]);
 dots(p,walenX,'#008000',6.5,'walen-point-x');
 dots(p,walenY,'#f00',6.5,'walen-point-y');
 dots(p,walenZ,'#00f',6.5,'walen-point-z');
 const fit=[[-60.8,walenSlope*-60.8+walenIntercept],[57.1,walenSlope*57.1+walenIntercept]];
 const fl=line(p,fit,'#000','walen-fit-line',2.5);fl.setAttribute('stroke-dasharray','12,7');
 frame(p);
 const xs=range(-60,40,20);xTicks(p,xs,xs.map(v=>fmt(v,0)));
 const ys=range(-60,40,20);yTicks(p,ys,ys.map(v=>fmt(v,0)));
 title(p,'WalenTest',14);
 xLabel(p,'V<tspan font-size="11" font-style="italic" dy="4">A</tspan><tspan dy="-4">(km/s)</tspan>',1162);
 yLabel(p,'V<tspan font-size="11" font-style="italic" dy="4">remaining</tspan><tspan dy="-4">(km/s)</tspan>',52);
 const lg=legendBox(p.g,125,669,138,49,'walen-stats-box');
 const t1=mk('text',lg,{x:130,y:690,'font-size':18});t1.textContent='slope = 0.013';
 const t2=mk('text',lg,{x:130,y:712,'font-size':18});t2.innerHTML='<tspan font-style="italic" font-family="Liberation Serif">r</tspan> = 0.031';
}
const mvavT='<tspan font-size="13" font-style="italic" dy="5">remaining</tspan><tspan dy="-5"> frame)</tspan>';
hodoPanel('hodogram-v2-v1-mvav',1,661,[-40,40],[-50,30],range(-40,40,10),range(-50,30,10),hodo3B,null,'Hodogram (V2_V1 MVAV'+mvavT,'V2(km/s)',lamHtml(1,2,'25.95'),false);
hodoPanel('hodogram-v3-v1-mvav',2,661,[-40,40],[-50,30],range(-40,40,10),range(-50,30,10),hodo4B,null,'Hodogram (V3_V1 MVAV'+mvavT,'V3(km/s)',lamHtml(1,3,'92.3'),false);

// ---- Time series ----
function tsPanel(name,y0,yd,yt,ylab,ttl,ylabel,series,zero,legend){
  const p=makePanel(name,{x:117,y:y0,w:1566,h:223},[0,178],yd);
  if(zero){const z=line(p,[[0,0],[178,0]],'#000','zero-line',1.5);z.setAttribute('stroke-dasharray','10,7');}
  series.forEach(s=>line(p,s.data,s.color,s.name,2.2));
  frame(p);
  xTicks(p,timeTickMinutes,timeTickLabels,{fs:16});
  yTicks(p,yt,ylab,{fs:16});
  title(p,ttl,9);
  yLabel(p,ylabel,62);
  if(legend){const n=legend.items.length;
    const lg=legendBox(p.g,legend.x,y0+legend.dy,74,22*n+10,'legend');
    legend.items.forEach((it,i)=>legendEntry(lg,legend.x+9,y0+legend.dy+16+i*22,it[0],it[1],null,15));}
  return p;
}
const gy=range(-8,6,2);
tsPanel('magnetic-field-gse-chart',1304,[-8,6],gy,gy.map(v=>fmt(v,0)),'Magnetic Field (GSE Frame)','B(nT)',
  [{data:bxGse,color:'#f00',name:'bx-line'},{data:byGse,color:'#008000',name:'by-line'},{data:bzGse,color:'#00f',name:'bz-line'}],true,
  {x:1605,dy:8,items:[['#f00','Bx'],['#008000','By'],['#00f','Bz']]});
const fy=range(-8,8,2);
tsPanel('magnetic-field-flux-rope-chart',1640,[-8,8],fy,fy.map(v=>fmt(v,0)),'Magnetic Field (Flux Rope Frame)','B(nT)',
  [{data:bxFr,color:'#f00',name:'bx-prime-line'},{data:byFr,color:'#008000',name:'by-prime-line'},{data:bzFr,color:'#00f',name:'bz-prime-line'},{data:bmagFr,color:'#000',name:'b-magnitude-line'}],true,
  {x:1603,dy:7,items:[['#f00',"Bx'"],['#008000',"By'"],['#00f',"Bz'"],['#000','|B|']]});
const vy=range(-500,100,100);
tsPanel('solar-wind-velocity-chart',1976,[-500,100],vy,vy.map(v=>fmt(v,0)),'Solar Wind Velocity (GSE Frame)','Vsw(km/s)',
  [{data:vxGse,color:'#f00',name:'vx-line'},{data:vyGse,color:'#008000',name:'vy-line'},{data:vzGse,color:'#00f',name:'vz-line'}],false,
  {x:1605,dy:8,items:[['#f00','Vx'],['#008000','Vy'],['#00f','Vz']]});
const by_=range(0,5,1);
tsPanel('plasma-beta-chart',2306,[0,5],by_,by_.map(v=>fmt(v,0)),'Plasma Beta','<tspan font-style="italic">\u03b2</tspan><tspan font-size="11" dy="4">p</tspan><tspan dy="-4"> and </tspan><tspan font-style="italic">\u03b2</tspan>',
  [{data:betaP,color:'#00f',name:'beta-p-line'}],false,
  {x:1607,dy:8,items:[['#00f','<tspan font-style="italic">\u03b2</tspan><tspan font-size="10" dy="3">p</tspan>']]});
const dy_=range(0,40,5);
tsPanel('proton-density-chart',2642,[0,40],dy_,dy_.map(v=>fmt(v,0)),'Proton Number Density','Np(#/cc)',
  [{data:densityNp,color:'#00f',name:'np-line'}],false,null);
const ty=range(0,0.5,0.1);
tsPanel('proton-temperature-chart',2979,[0,0.5],ty,ty.map(v=>fmt(v,1)),'Proton Temperature and <tspan font-family="Liberation Serif" font-style="italic">T</tspan><tspan font-size="12" font-style="italic" dy="4">e</tspan><tspan dy="-4">/</tspan><tspan font-family="Liberation Serif" font-style="italic">T</tspan><tspan font-size="12" font-style="italic" dy="4">p</tspan>','Tp(10<tspan font-size="11" dy="-6">6</tspan><tspan dy="6">K)</tspan>',
  [{data:tempTp,color:'#00f',name:'tp-line'}],false,
  {x:124,dy:8,items:[['#00f','Tp']]});
</script>
</body></html>
